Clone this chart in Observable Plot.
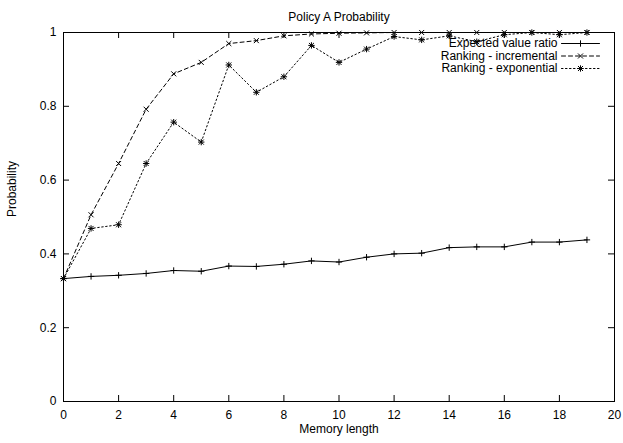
<!DOCTYPE html>
<html>
<head>
<meta charset="utf-8">
<script src="https://cdn.jsdelivr.net/npm/d3@7"></script>
<script src="https://cdn.jsdelivr.net/npm/@observablehq/plot@0.6"></script>
<style>
  html, body { margin: 0; padding: 0; background: #fff; }
  svg { display: block; }
</style>
</head>
<body>
<div id="chart"></div>
<script>
// ---- data ----
const titleText = "Policy A Probability";
const xLabel = "Memory length";
const yLabel = "Probability";
const memory = [0,1,2,3,4,5,6,7,8,9,10,11,12,13,14,15,16,17,18,19];
const expectedRatio = [0.333,0.339,0.342,0.347,0.355,0.353,0.367,0.366,0.372,0.381,0.378,0.391,0.400,0.402,0.417,0.419,0.419,0.432,0.432,0.438];
const rankingIncremental = [0.333,0.506,0.645,0.792,0.888,0.919,0.970,0.978,0.991,0.996,0.998,0.999,1,1,1,1,1,1,1,1];
const rankingExponential = [0.333,0.469,0.479,0.645,0.757,0.703,0.912,0.838,0.880,0.965,0.919,0.955,0.989,0.980,0.991,0.975,0.994,1.0,0.994,1.0];
const seriesNames = ["Expected value ratio", "Ranking - incremental", "Ranking - exponential"];
const xTicks = [0,2,4,6,8,10,12,14,16,18,20];
const yTicks = [0,0.2,0.4,0.6,0.8,1];

// ---- layout ----
const W = 623, H = 443;
const mL = 63, mR = 9, mT = 32, mB = 42;
const fw = W - mL - mR, fh = H - mT - mB;
const tick = 6;
const font = "'Liberation Sans', Arial, Helvetica, sans-serif";
const rPlus = 2.2, rTimes = 2.4;

const rows = (vals) => memory.map((m, i) => ({m, v: vals[i]}));
const dExp = rows(expectedRatio), dInc = rows(rankingIncremental), dExpo = rows(rankingExponential);

const dashes = [null, "4,3", "1.5,2.5"];
const symSets = [["plus"], ["times"], ["plus", "times"]];
const symR = {plus: rPlus, times: rTimes};
const lineShape = {draw(context, l) { context.moveTo(0, 0); context.lineTo(0, -l); }};
const legRowY = (i) => 11 + i * 12.5;
const legendMarks = [];
seriesNames.forEach((name, i) => {
  legendMarks.push(Plot.text([name], {frameAnchor: "top-right", dx: -57, dy: legRowY(i), text: d => d, textAnchor: "end", lineAnchor: "middle", fontSize: 12, fill: "black"}));
  legendMarks.push(Plot.vector([name], {frameAnchor: "top-right", dx: -53, dy: legRowY(i), rotate: 90, length: 38, anchor: "start", shape: lineShape, stroke: "black", strokeWidth: 1, strokeDasharray: dashes[i]}));
  symSets[i].forEach(s => legendMarks.push(Plot.dot([name], {frameAnchor: "top-right", dx: -34, dy: legRowY(i), symbol: s, r: symR[s], stroke: "black", strokeWidth: 1})));
});

const seriesMarks = [];
[dExp, dInc, dExpo].forEach((d, i) => {
  seriesMarks.push(Plot.line(d, {x: "m", y: "v", stroke: "black", strokeWidth: 1, strokeDasharray: dashes[i]}));
  symSets[i].forEach(s => seriesMarks.push(Plot.dot(d, {x: "m", y: "v", symbol: s, r: symR[s], stroke: "black", strokeWidth: 1})));
});

const chart = Plot.plot({
  width: W, height: H,
  marginLeft: mL, marginRight: mR, marginTop: mT, marginBottom: mB,
  style: {fontFamily: font, fontSize: "12px", background: "white", color: "black"},
  x: {domain: [0, 20]},
  y: {domain: [0, 1]},
  marks: [
    Plot.frame({stroke: "black", strokeWidth: 1}),
    Plot.tickX(xTicks, {x: d => d, insetTop: fh - tick, stroke: "black"}),
    Plot.tickX(xTicks, {x: d => d, insetBottom: fh - tick, stroke: "black"}),
    Plot.tickY(yTicks, {y: d => d, insetRight: fw - tick, stroke: "black"}),
    Plot.tickY(yTicks, {y: d => d, insetLeft: fw - tick, stroke: "black"}),
    Plot.axisX({ticks: xTicks, tickSize: 0, tickPadding: 9, label: null, tickFormat: d => String(d), fontSize: 12}),
    Plot.axisY({ticks: yTicks, tickSize: 0, tickPadding: 7, label: null, tickFormat: d => String(d), fontSize: 12}),
    Plot.text([titleText], {frameAnchor: "top", dy: -20, text: d => d, fontSize: 12, fill: "black"}),
    Plot.text([xLabel], {frameAnchor: "bottom", dy: 31, text: d => d, fontSize: 12, fill: "black"}),
    Plot.text([yLabel], {frameAnchor: "left", dx: -51, rotate: -90, text: d => d, fontSize: 12, fill: "black"}),
    ...seriesMarks,
    ...legendMarks
  ]
});
document.getElementById("chart").appendChild(chart);
</script>
</body>
</html>
